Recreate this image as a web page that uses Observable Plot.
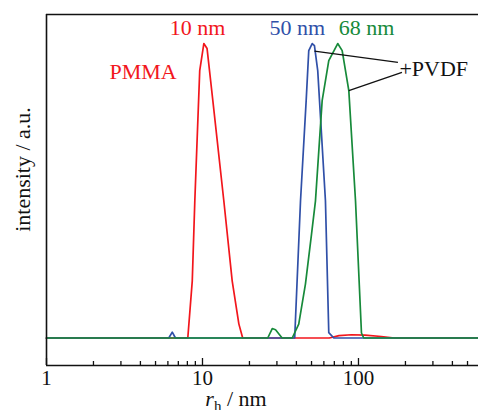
<!DOCTYPE html>
<html>
<head>
<meta charset="utf-8">
<script src="https://cdn.jsdelivr.net/npm/d3@7"></script>
<script src="https://cdn.jsdelivr.net/npm/@observablehq/plot@0.6"></script>
<style>
  html, body { margin: 0; padding: 0; background: #fff; overflow: hidden; }
</style>
</head>
<body>
<div id="chart"></div>
<script>
// PMMA (red)
const pmmaX = [1, 8.05, 8.6, 8.93, 9.6, 10.2, 10.7, 11.65, 13.7, 15.5, 17.1, 18.1, 65, 75, 90, 110, 140, 170, 588];
const pmmaY = [0, 0, 19.4, 46.6, 90.8, 100, 98.3, 80.6, 46.6, 19.4, 4.8, 0, 0, 0.8, 1.1, 1.0, 0.5, 0, 0];
// +PVDF, 50 nm (blue)
const blueX = [1, 6.08, 6.4, 6.71, 39.0, 42.5, 46.2, 48.0, 50.5, 52.2, 54.8, 61.4, 64.5, 69.5, 588];
const blueY = [0, 0, 2.0, 0, 0, 46.6, 80.6, 97.6, 100, 99.3, 90.8, 46.6, 1.8, 0, 0];
// +PVDF, 68 nm (green)
const greenX = [1, 26.2, 28.0, 29.4, 32.4, 37.6, 41.4, 45.7, 50.0, 53.0, 58.5, 64.5, 73.6, 78.6, 86.7, 95.7, 104.5, 108.1, 588];
const greenY = [0, 0, 3.2, 2.8, 0, 0, 4.7, 18.3, 35.3, 46.6, 80.6, 94.2, 100, 97.6, 84.0, 46.6, 1.7, 0, 0];

const seriesNames = ["PMMA", "PVDF50", "PVDF68"];
const seriesColors = ["#f2161c", "#3050a8", "#178a3a"];

// annotation labels
const labelText = ["10 nm", "50 nm", "68 nm", "PMMA", "+PVDF"];
const labelX = [9.29, 40.5, 112.5, 4.16, 183];
const labelY = [105.3, 105.3, 105.3, 90.5, 91.3];
const labelColor = ["#f2161c", "#3050a8", "#178a3a", "#f2161c", "#111111"];
const labelAnchor = ["middle", "middle", "middle", "middle", "start"];

// leader lines from "+PVDF"
const leadX1 = [52.2, 86.7];
const leadY1 = [97.4, 84.0];
const leadX2 = [179, 190];
const leadY2 = [93.6, 90.2];

// axis ticks
const majorTicks = [1, 10, 100];
const minorTicks = [2,3,4,5,6,7,8,9,20,30,40,50,60,70,80,90,200,300,400,500];
const xDomain = [1, 588];
const yDomain = [-9.34, 109.86];

const lines = [];
[[pmmaX, pmmaY], [blueX, blueY], [greenX, greenY]].forEach(([xs, ys], i) => {
  xs.forEach((x, j) => lines.push({series: seriesNames[i], x, y: ys[j]}));
});
const labels = labelText.map((t, i) => ({t, x: labelX[i], y: labelY[i], c: labelColor[i], a: labelAnchor[i]}));
const leaders = leadX1.map((x1, i) => ({x1, y1: leadY1[i], x2: leadX2[i], y2: leadY2[i]}));

const serif = "'Liberation Serif', 'Times New Roman', serif";

const chart = Plot.plot({
  width: 478,
  height: 410,
  marginLeft: 46,
  marginRight: 0,
  marginTop: 14,
  marginBottom: 45,
  style: {fontFamily: serif, fontSize: "22px", background: "#fff", overflow: "visible"},
  x: {type: "log", domain: xDomain, axis: null},
  y: {domain: yDomain, axis: null},
  color: {domain: seriesNames, range: seriesColors},
  marks: [
    Plot.line(lines, {x: "x", y: "y", z: "series", stroke: "series", strokeWidth: 1.7}),
    Plot.link(leaders, {x1: "x1", y1: "y1", x2: "x2", y2: "y2", stroke: "#111", strokeWidth: 1.3}),
    Plot.text(labels.filter(d => d.a === "middle"), {x: "x", y: "y", text: "t", fill: "c", fontSize: 22, textAnchor: "middle"}),
    Plot.text(labels.filter(d => d.a === "start"), {x: "x", y: "y", text: "t", fill: "c", fontSize: 22, textAnchor: "start"}),
    Plot.ruleX([xDomain[0]], {stroke: "#111", strokeWidth: 1.6}),
    Plot.ruleY([yDomain[0], yDomain[1]], {stroke: "#111", strokeWidth: 1.6}),
    Plot.tickX(minorTicks, {x: d => d, insetTop: 347, stroke: "#111", strokeWidth: 1.3}),
    Plot.tickX(majorTicks, {x: d => d, insetTop: 344, stroke: "#111", strokeWidth: 1.3}),
    Plot.text(majorTicks, {x: d => d, frameAnchor: "bottom", dy: 19.5, text: d => String(d), fontSize: 21, fill: "#111", textAnchor: "middle"}),
    Plot.text(["intensity / a.u."], {frameAnchor: "left", text: d => d, rotate: -90, textAnchor: "middle", dx: -24, dy: -20.5, fontSize: 22, fill: "#111"})
  ]
});
document.getElementById("chart").appendChild(chart);

// x-axis title with italic r and subscript h
const svg = d3.select(chart);
const xt = svg.append("text")
  .attr("x", 236).attr("y", 406)
  .attr("fill", "#111")
  .attr("font-family", serif)
  .attr("font-size", 22);
xt.append("tspan").attr("font-style", "italic").text("r");
xt.append("tspan").attr("dy", 5).attr("font-size", 15).text("h");
xt.append("tspan").attr("dy", -5).text(" / nm");
</script>
</body>
</html>
